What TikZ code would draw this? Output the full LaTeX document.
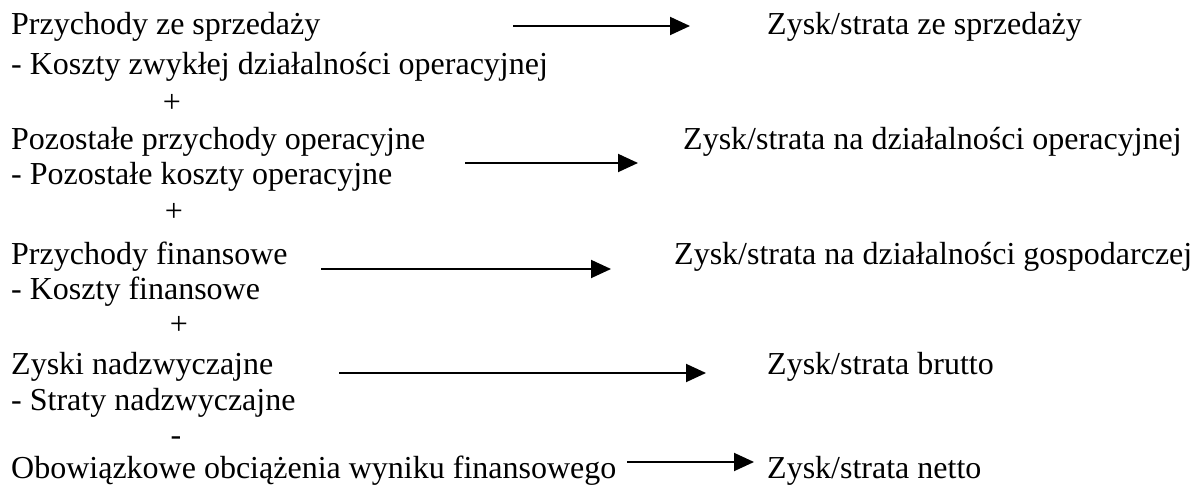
\documentclass[tikz,border=0pt]{standalone}
\usepackage{fontspec}
\setmainfont{Liberation Serif}
\usetikzlibrary{arrows.meta}
\begin{document}
\begin{tikzpicture}[x=1pt,y=-1pt,
  txt/.style={anchor=base west, inner sep=0pt, font=\fontsize{32}{36}\selectfont},
  sgn/.style={anchor=base, inner sep=0pt, font=\fontsize{32}{36}\selectfont},
  arr/.style={line width=1.9pt, -{Triangle[length=20pt,width=18pt]}}]
\useasboundingbox (0,0) rectangle (1195,486);
% left column
\node[txt] (l1)  at (11,35)  {Przychody ze sprzedaży};
\node[txt] (l2)  at (11,75)  {- Koszty zwykłej działalności operacyjnej};
\node[sgn] (p1)  at (172,113) {+};
\node[txt] (l3)  at (11,150) {Pozostałe przychody operacyjne};
\node[txt] (l4)  at (11,185) {- Pozostałe koszty operacyjne};
\node[sgn] (p2)  at (174,222) {+};
\node[txt] (l5)  at (11,265) {Przychody finansowe};
\node[txt] (l6)  at (11,300) {- Koszty finansowe};
\node[sgn] (p3)  at (179,335) {+};
\node[txt] (l7)  at (11,375) {Zyski nadzwyczajne};
\node[txt] (l8)  at (11,410) {- Straty nadzwyczajne};
\node[sgn] (m1)  at (176,446) {-};
\node[txt] (l9)  at (11,478) {Obowiązkowe obciążenia wyniku finansowego};
% right column
\node[txt] (r1) at (767,35)  {Zysk/strata ze sprzedaży};
\node[txt] (r2) at (683,150) {Zysk/strata na działalności operacyjnej};
\node[txt] (r3) at (674,265) {Zysk/strata na działalności gospodarczej};
\node[txt] (r4) at (767,375) {Zysk/strata brutto};
\node[txt] (r5) at (767,478) {Zysk/strata netto};
% arrows
\coordinate (a1s) at (513,26);  \coordinate (a1e) at (690,26);
\coordinate (a2s) at (465,163); \coordinate (a2e) at (638,163);
\coordinate (a3s) at (321,269); \coordinate (a3e) at (611,269);
\coordinate (a4s) at (339,373); \coordinate (a4e) at (706,373);
\coordinate (a5s) at (627,462); \coordinate (a5e) at (754,462);
\draw[arr] (a1s) -- (a1e);
\draw[arr] (a2s) -- (a2e);
\draw[arr] (a3s) -- (a3e);
\draw[arr] (a4s) -- (a4e);
\draw[arr] (a5s) -- (a5e);
\end{tikzpicture}
\end{document}
